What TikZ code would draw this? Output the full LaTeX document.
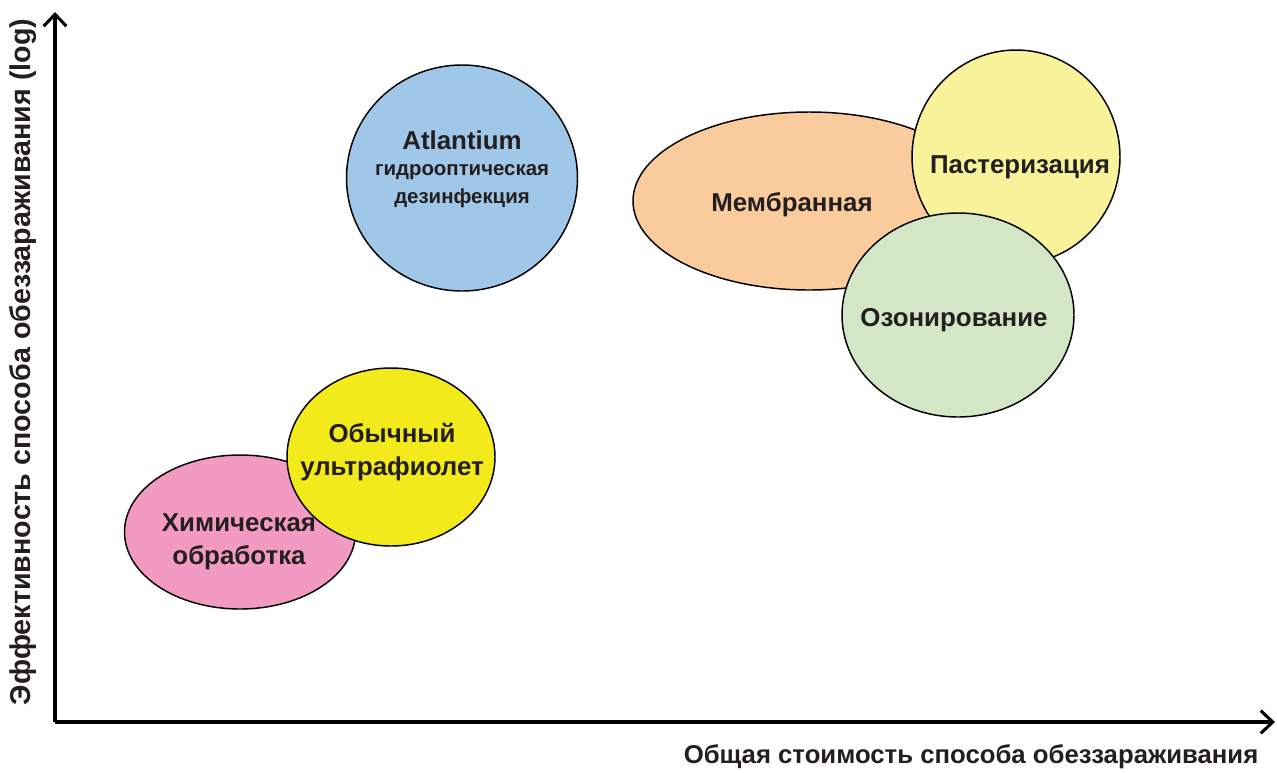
\documentclass[tikz,border=0pt]{standalone}
\usepackage{fontspec}
\setmainfont{Liberation Sans}
\usetikzlibrary{arrows.meta,shapes.geometric}
\definecolor{txt}{HTML}{231F20}
\definecolor{cblue}{RGB}{160,199,232}
\definecolor{cpeach}{RGB}{250,203,156}
\definecolor{cpyel}{RGB}{248,243,155}
\definecolor{cgreen}{RGB}{211,230,198}
\definecolor{cpink}{RGB}{242,154,194}
\definecolor{cyel}{RGB}{242,234,26}
\tikzset{
  blob/.style={draw=black, line width=1.1pt},
  lbl/.style={text=txt, font=\bfseries\fontsize{19.4}{23}\selectfont, align=center, inner sep=0pt},
  axis/.style={line width=2.3pt, -{Straight Barb[length=9pt,width=17pt,line width=2.3pt]}}
}
\begin{document}
\begin{tikzpicture}[x=0.75pt,y=-0.75pt]
\useasboundingbox (0,0) rectangle (1277,772);
% shapes
\draw[blob, fill=cblue] (462,178) ellipse [x radius=115.5, y radius=113];
\draw[blob, fill=cpeach] (809,201) ellipse [x radius=176, y radius=89];
\draw[blob, fill=cpyel] (1016,157) ellipse [x radius=104, y radius=107];
\draw[blob, fill=cgreen] (958,315) ellipse [x radius=116, y radius=102];
\draw[blob, fill=cpink] (240,532) ellipse [x radius=115.5, y radius=77];
\draw[blob, fill=cyel] (391,457) ellipse [x radius=104, y radius=89];
% axes
\coordinate (o) at (55,722);
\coordinate (ytip) at (55,12);
\coordinate (xtip) at (1275,722);
\draw[axis] (o) -- (ytip);
\draw[axis] (o) -- (xtip);
% labels
\node[lbl] (atl) at (462,140) {Atlantium};
\node[lbl, font=\bfseries\fontsize{15.3}{18.5}\selectfont] (atl2) at (462,186) {гидрооптическая\\[2pt]дезинфекция};
\node[lbl] (mem) at (792,205) {Мембранная};
\node[lbl] (past) at (1020,167) {Пастеризация};
\node[lbl] (ozon) at (954,320) {Озонирование};
\node[lbl] (uv) at (392,452) {Обычный\\[2pt]ультрафиолет};
\node[lbl] (chem) at (239,542) {Химическая\\[2pt]обработка};
\node[lbl, font=\bfseries\fontsize{19.3}{23}\selectfont] (xl) at (971,757) {Общая стоимость способа обеззараживания};
\node[lbl, font=\bfseries\fontsize{21.5}{25}\selectfont, rotate=90] (yl) at (23,362) {Эффективность способа обеззараживания (log)};
\end{tikzpicture}
\end{document}
